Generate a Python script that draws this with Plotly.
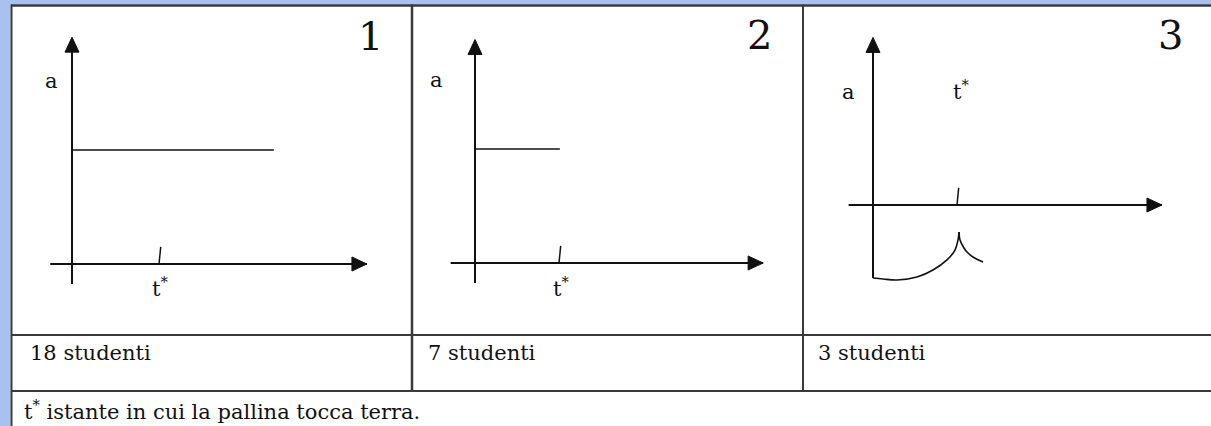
import plotly.graph_objects as go

W, H = 1211, 426

# ---------------- content ----------------
panel_names = ["1", "2", "3"]
student_counts = [18, 7, 3]
row_labels = [f"{n} studenti" for n in student_counts]
footnote = "t<sup>*</sup> istante in cui la pallina tocca terra."

# time in units of t*, acceleration in units of the plotted constant level
t_star = [1.0, 1.0, 1.0]
t_axis = [(-0.25, 3.39), (-0.29, 3.43), (-0.29, 3.44)]
a_axis = [(-0.175, 1.99), (-0.175, 1.96), (-0.64, 1.47)]

# sketch 1: constant acceleration lasting past t*
p1_t = [0.0, 2.32]
p1_a = [1.0, 1.0]
# sketch 2: constant acceleration ending at t*
p2_t = [0.0, 1.01]
p2_a = [1.0, 1.0]
# sketch 3: negative curved branch up to a cusp at t*, then a second branch
p3_t_before = [0.0, 0.119, 0.286, 0.524, 0.714, 0.881, 0.976, 1.012, 1.024]
p3_a_before = [-0.640, -0.649, -0.658, -0.632, -0.570, -0.482, -0.395, -0.307, -0.237]
p3_t_after = [1.024, 1.036, 1.083, 1.119, 1.190, 1.310]
p3_a_after = [-0.237, -0.307, -0.377, -0.412, -0.456, -0.500]

# ---------------- layout config ----------------
origins = [(72, 264), (475, 263), (873, 205)]   # pixel position of each origin
t_px = [87, 84, 84]                              # pixels per t unit
a_px = 114                                       # pixels per a unit
a_label_pos = [(-0.23, 1.605), (-0.464, 1.605), (-0.286, 0.991)]
t_label_pos = [(1.01, -0.20), (1.02, -0.21), (1.05, 1.01)]
panel_num_pos = [(370, 36), (759, 35), (1170, 35)]
row_label_x = [28, 426, 816]

INK = "#111111"
GRID = "#3a3a3a"
BAND = "#a8c1ef"
FONT = "DejaVu Serif"
HEAD_LEN, HEAD_HALF = 15, 7


def px(x):
    return x / W


def py(y):
    return 1 - y / H


fig = go.Figure()
layout = dict(width=W, height=H, margin=dict(l=0, r=0, t=0, b=0),
              paper_bgcolor="white", plot_bgcolor="rgba(0,0,0,0)",
              showlegend=False)

annotations = []
shapes = []

# window bands
shapes.append(dict(type="rect", xref="paper", yref="paper", x0=0, x1=1,
                   y0=py(4.5), y1=1, fillcolor=BAND, line_width=0, layer="below"))
shapes.append(dict(type="rect", xref="paper", yref="paper", x0=0, x1=px(10.5),
                   y0=0, y1=1, fillcolor=BAND, line_width=0, layer="below"))

axis_line = dict(color=INK, width=2)
for i in range(3):
    k = "" if i == 0 else str(i + 1)
    ox, oy = origins[i]
    xr = [-ox / t_px[i], (W - ox) / t_px[i]]
    yr = [-(H - oy) / a_px, oy / a_px]
    layout["xaxis" + k] = dict(domain=[0, 1], range=xr, visible=False,
                               anchor="y" + k, fixedrange=True)
    layout["yaxis" + k] = dict(domain=[0, 1], range=yr, visible=False,
                               anchor="x" + k, fixedrange=True)
    xa, ya = "x" + k, "y" + k

    # t axis and a axis lines
    fig.add_trace(go.Scatter(x=[t_axis[i][0], t_axis[i][1]], y=[0, 0],
                             mode="lines", line=axis_line,
                             xaxis=xa, yaxis=ya, hoverinfo="skip"))
    fig.add_trace(go.Scatter(x=[0, 0], y=[a_axis[i][0], a_axis[i][1] - 0.05],
                             mode="lines", line=axis_line,
                             xaxis=xa, yaxis=ya, hoverinfo="skip"))
    # arrow heads, sized in pixels and anchored at the axis ends
    shapes.append(dict(type="path", xref=xa, yref=ya,
                       xsizemode="pixel", ysizemode="pixel",
                       xanchor=t_axis[i][1], yanchor=0,
                       path=f"M 0 0 L {-HEAD_LEN} {HEAD_HALF} L {-HEAD_LEN} {-HEAD_HALF} Z",
                       fillcolor=INK, line=dict(color=INK, width=1)))
    shapes.append(dict(type="path", xref=xa, yref=ya,
                       xsizemode="pixel", ysizemode="pixel",
                       xanchor=0, yanchor=a_axis[i][1],
                       path=f"M 0 0 L {-HEAD_HALF} {-HEAD_LEN} L {HEAD_HALF} {-HEAD_LEN} Z",
                       fillcolor=INK, line=dict(color=INK, width=1)))
    # tick at t*
    fig.add_trace(go.Scatter(x=[t_star[i], t_star[i] + 0.02], y=[0, 0.15],
                             mode="lines", line=dict(color=INK, width=1.5),
                             xaxis=xa, yaxis=ya, hoverinfo="skip"))
    # labels
    annotations.append(dict(x=a_label_pos[i][0], y=a_label_pos[i][1],
                            xref=xa, yref=ya, text="a", showarrow=False,
                            xanchor="center", yanchor="middle",
                            font=dict(family=FONT, size=21, color=INK)))
    annotations.append(dict(x=t_label_pos[i][0], y=t_label_pos[i][1],
                            xref=xa, yref=ya, text="t<sup>*</sup>",
                            showarrow=False, xanchor="center", yanchor="middle",
                            font=dict(family=FONT, size=21, color=INK)))

line_style = dict(color=INK, width=1.6)
fig.add_trace(go.Scatter(x=p1_t, y=p1_a, mode="lines", line=line_style,
                         xaxis="x", yaxis="y", hoverinfo="skip"))
fig.add_trace(go.Scatter(x=p2_t, y=p2_a, mode="lines", line=line_style,
                         xaxis="x2", yaxis="y2", hoverinfo="skip"))
fig.add_trace(go.Scatter(x=p3_t_before, y=p3_a_before, mode="lines",
                         line=dict(color=INK, width=1.6, shape="spline"),
                         xaxis="x3", yaxis="y3", hoverinfo="skip"))
fig.add_trace(go.Scatter(x=p3_t_after, y=p3_a_after, mode="lines",
                         line=dict(color=INK, width=1.6, shape="spline"),
                         xaxis="x3", yaxis="y3", hoverinfo="skip"))


# ---------------- table frame ----------------
def hline(y, x0, x1, w=2):
    shapes.append(dict(type="line", xref="paper", yref="paper",
                       x0=px(x0), x1=px(x1), y0=py(y), y1=py(y),
                       line=dict(color=GRID, width=w)))


def vline(x, y0, y1, w=2):
    shapes.append(dict(type="line", xref="paper", yref="paper",
                       x0=px(x), x1=px(x), y0=py(y0), y1=py(y1),
                       line=dict(color=GRID, width=w)))


hline(5.5, 11, W, 2.5)
hline(335, 11, W, 2)
hline(391, 11, W, 2)
vline(11.5, 4.5, H, 2)
vline(412, 4.5, 391, 2.5)
vline(803, 4.5, 391, 2)

for name, (x, y) in zip(panel_names, panel_num_pos):
    annotations.append(dict(x=px(x), y=py(y), xref="paper", yref="paper",
                            text=name, showarrow=False,
                            xanchor="center", yanchor="middle",
                            font=dict(family=FONT, size=40, color=INK)))

for lab, x in zip(row_labels, row_label_x):
    annotations.append(dict(x=px(x), y=py(353), xref="paper", yref="paper",
                            text=lab, showarrow=False,
                            xanchor="left", yanchor="middle",
                            font=dict(family=FONT, size=21, color=INK)))

annotations.append(dict(x=px(22), y=py(410), xref="paper", yref="paper",
                        text=footnote, showarrow=False,
                        xanchor="left", yanchor="middle",
                        font=dict(family=FONT, size=21, color=INK)))

layout["shapes"] = shapes
layout["annotations"] = annotations
fig.update_layout(**layout)

fig.write_html("out.html", config={"displayModeBar": False})
